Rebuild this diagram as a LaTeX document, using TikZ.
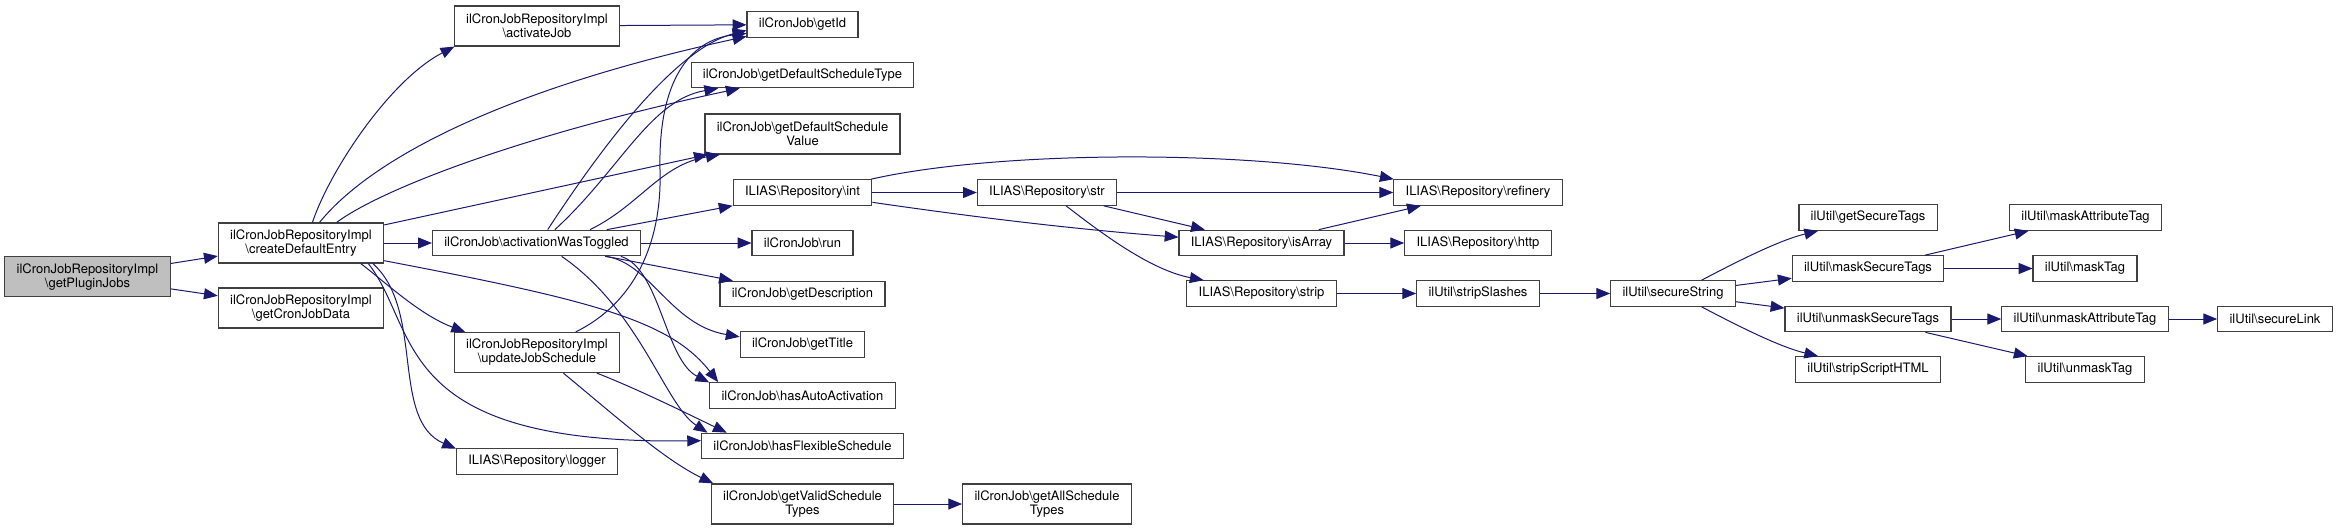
\documentclass[tikz,border=0pt]{standalone}
\usepackage{fontspec}
\setmainfont{TeX Gyre Heros}
\usepackage{tikz}
\usetikzlibrary{arrows.meta}
\definecolor{edgeblue}{RGB}{25,25,112}
\definecolor{rootgray}{RGB}{191,191,191}
\newcommand{\bsl}{\textbackslash}
\tikzset{every picture/.style={line width=0.6pt}}
\tikzset{
  fnbox/.style={draw=black!75, line width=0.6pt, fill=white, font=\fontsize{6.5}{7}\selectfont,
    align=center, inner xsep=5.9pt, inner ysep=1pt, minimum height=12.75pt},
  twoline/.style={minimum height=20pt},
  rootbox/.style={fnbox, twoline, fill=rootgray},
  callarrow/.style={draw=edgeblue, line width=0.5pt, -{Triangle[length=6.9pt,width=5.5pt]}}
}

\begin{document}
\begin{tikzpicture}[x=0.5pt,y=0.5pt,yscale=-1,xscale=1]
\useasboundingbox (0,0) rectangle (2337,531);

% Nodes: caller side
\node[rootbox] (gpj) at (87.5,276.6) {ilCronJobRepositoryImpl\\\bsl getPluginJobs};
\node[fnbox,twoline] (cde) at (301,243) {ilCronJobRepositoryImpl\\\bsl createDefaultEntry};
\node[fnbox,twoline] (gcjd) at (301,308) {ilCronJobRepositoryImpl\\\bsl getCronJobData};
\node[fnbox,twoline] (aj) at (537,26) {ilCronJobRepositoryImpl\\\bsl activateJob};
\node[fnbox] (awt) at (536.5,243) {ilCronJob\bsl activationWasToggled};
\node[fnbox,twoline] (ujs) at (537,352.5) {ilCronJobRepositoryImpl\\\bsl updateJobSchedule};
\node[fnbox] (logger) at (537,461.5) {ILIAS\bsl Repository\bsl logger};

% Nodes: ilCronJob column
\node[fnbox] (gid) at (802.5,24.5) {ilCronJob\bsl getId};
\node[fnbox] (gdst) at (802.5,75) {ilCronJob\bsl getDefaultScheduleType};
\node[fnbox,twoline] (gdsv) at (802.5,134) {ilCronJob\bsl getDefaultSchedule\\Value};
\node[fnbox] (int) at (802.5,192.5) {ILIAS\bsl Repository\bsl int};
\node[fnbox] (run) at (802.5,243) {ilCronJob\bsl run};
\node[fnbox] (gdesc) at (802.5,294) {ilCronJob\bsl getDescription};
\node[fnbox] (gtitle) at (802.5,344.5) {ilCronJob\bsl getTitle};
\node[fnbox] (hauto) at (802.5,395.5) {ilCronJob\bsl hasAutoActivation};
\node[fnbox] (hflex) at (802.5,446) {ilCronJob\bsl hasFlexibleSchedule};
\node[fnbox,twoline] (gvst) at (802.5,504) {ilCronJob\bsl getValidSchedule\\Types};
\node[fnbox,twoline] (gast) at (1047,504) {ilCronJob\bsl getAllSchedule\\Types};

% Nodes: repository / util
\node[fnbox] (str) at (1047,192.5) {ILIAS\bsl Repository\bsl str};
\node[fnbox] (isarr) at (1261.5,243) {ILIAS\bsl Repository\bsl isArray};
\node[fnbox] (strip) at (1261.5,293.5) {ILIAS\bsl Repository\bsl strip};
\node[fnbox] (refinery) at (1478,192.5) {ILIAS\bsl Repository\bsl refinery};
\node[fnbox] (http) at (1478,243) {ILIAS\bsl Repository\bsl http};
\node[fnbox] (sslash) at (1478,293.5) {ilUtil\bsl stripSlashes};
\node[fnbox] (sstr) at (1673,293.5) {ilUtil\bsl secureString};
\node[fnbox] (gstags) at (1868,217.5) {ilUtil\bsl getSecureTags};
\node[fnbox] (mstags) at (1868,268.5) {ilUtil\bsl maskSecureTags};
\node[fnbox] (ustags) at (1868,319) {ilUtil\bsl unmaskSecureTags};
\node[fnbox] (sshtml) at (1868,369.5) {ilUtil\bsl stripScriptHTML};
\node[fnbox] (matag) at (2085.5,217.5) {ilUtil\bsl maskAttributeTag};
\node[fnbox] (mtag) at (2085,268.5) {ilUtil\bsl maskTag};
\node[fnbox] (uatag) at (2085,319) {ilUtil\bsl unmaskAttributeTag};
\node[fnbox] (utag) at (2085,369.5) {ilUtil\bsl unmaskTag};
\node[fnbox] (slink) at (2275,319) {ilUtil\bsl secureLink};

%Straight Lines
\draw[callarrow] (gpj) -- (cde);
\draw[callarrow] (gpj) -- (gcjd);
\draw[callarrow] (cde) -- (awt);
\draw[callarrow] (cde) -- (gdsv);
\draw[callarrow] (aj) -- (gid);
\draw[callarrow] (awt) -- (int);
\draw[callarrow] (awt) -- (run);
\draw[callarrow] (awt) -- (gdesc);
\draw[callarrow] (gvst) -- (gast);

%Curve Lines from createDefaultEntry
\draw[callarrow] (cde.61) .. controls (330,170) and (390,80) .. (aj.-166);
\draw[callarrow] (cde.48) .. controls (370,160) and (500,90) .. (gid.192);
\draw[callarrow] (cde.30) .. controls (380,190) and (520,135) .. (gdst.192);
\draw[callarrow] (cde.-12) .. controls (590,300) and (670,320) .. (hauto.171);
\draw[callarrow] (cde.-19) .. controls (385,282) and (420,315) .. (ujs.164);
\draw[callarrow] (cde.-17.5) .. controls (420,330) and (390,445) .. (hflex.177);
\draw[callarrow] (cde.-16) .. controls (425,310) and (390,420) .. (logger.171);

%Curve Lines from activationWasToggled
\draw[callarrow] (awt.50) .. controls (590,165) and (670,50) .. (gid.186);
\draw[callarrow] (awt.36) .. controls (620,170) and (650,100) .. (gdst.189);
\draw[callarrow] (awt.14) .. controls (640,205) and (660,165) .. (gdsv.194);
\draw[callarrow] (awt.-11) .. controls (650,262) and (670,325) .. (gtitle.173);
\draw[callarrow] (awt.-9) .. controls (660,268) and (665,360) .. (hauto.172.5);
\draw[callarrow] (awt.-28) .. controls (640,310) and (665,405) .. (hflex.172);

%Curve Lines from updateJobSchedule
\draw[callarrow] (ujs.28) .. controls (640,300) and (662,235) .. (660,170)
  .. controls (658,80) and (690,40) .. (gid.189);
\draw[callarrow] (ujs.-19) .. controls (640,390) and (690,415) .. (hflex.170);
\draw[callarrow] (ujs.-38) .. controls (620,420) and (665,460) .. (gvst.167);

%Repository calls
\draw[callarrow] (int) -- (str);
\draw[callarrow] (int.11) .. controls (1000,150) and (1250,150) .. (refinery.171);
\draw[callarrow] (int.-8) .. controls (960,215) and (1060,228) .. (isarr.176);
\draw[callarrow] (str) -- (refinery);
\draw[callarrow] (str) -- (isarr);
\draw[callarrow] (str.-35) .. controls (1100,232) and (1150,270) .. (strip.167);
\draw[callarrow] (isarr) -- (refinery);
\draw[callarrow] (isarr) -- (http);
\draw[callarrow] (strip) -- (sslash);
\draw[callarrow] (sslash) -- (sstr);

%ilUtil calls
\draw[callarrow] (sstr.25) .. controls (1740,260) and (1780,240) .. (gstags.195);
\draw[callarrow] (sstr) -- (mstags);
\draw[callarrow] (sstr) -- (ustags);
\draw[callarrow] (sstr.-25) .. controls (1740,327) and (1780,347) .. (sshtml.165);
\draw[callarrow] (mstags) -- (matag);
\draw[callarrow] (mstags) -- (mtag);
\draw[callarrow] (ustags) -- (uatag);
\draw[callarrow] (ustags) -- (utag);
\draw[callarrow] (uatag) -- (slink);

\end{tikzpicture}
\end{document}
